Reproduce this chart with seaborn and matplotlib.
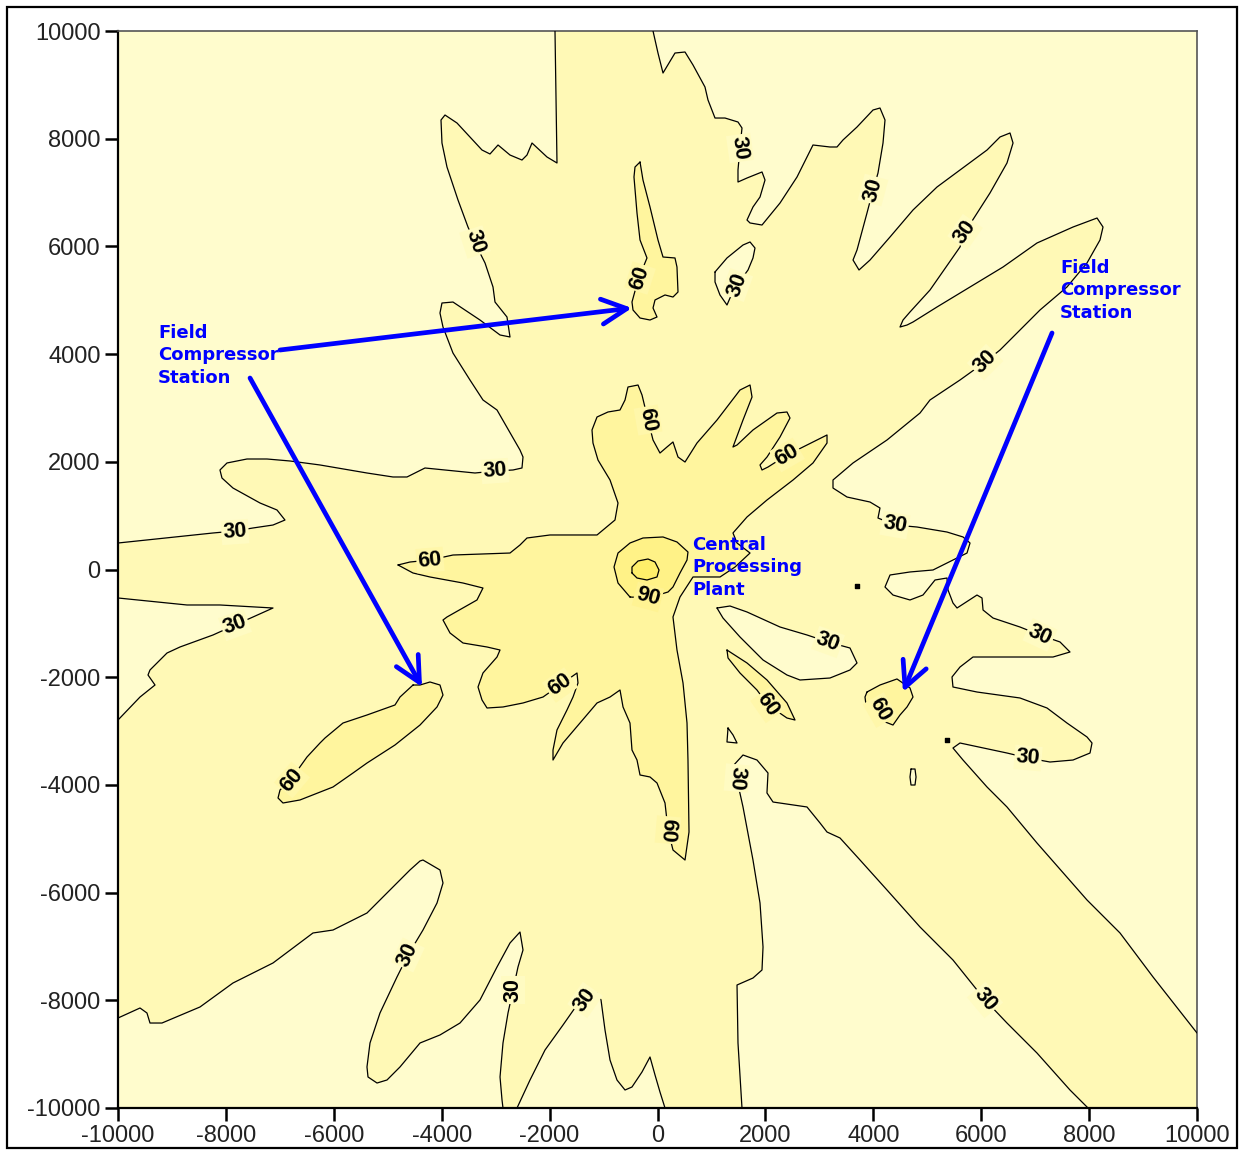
import matplotlib
matplotlib.use("Agg")
import matplotlib.pyplot as plt
import seaborn as sns
from matplotlib.patches import Rectangle
from matplotlib.colors import to_rgb

# ---------------------------------------------------------------
# Ground-level concentration isopleths around the gas plant (m grid)
# ---------------------------------------------------------------

# 30-level boundaries of the low (<30) zones that reach the grid edge
light_nw = [(-1900, 10000), (-1863, 7549), (-2048, 7660), (-2326, 7920), (-2419, 7697),
            (-2512, 7604), (-2734, 7697), (-2956, 7883), (-3105, 7716), (-3253, 7790),
            (-3716, 8291), (-3939, 8440), (-4013, 8347), (-3995, 7920), (-3902, 7474),
            (-3698, 6862), (-3513, 6360), (-3364, 6026), (-3197, 5692), (-3049, 5246),
            (-3012, 4967), (-2790, 4689), (-2734, 4318), (-2919, 4355), (-3290, 4633),
            (-3791, 4967), (-3995, 4949), (-4032, 4763), (-3976, 4503), (-3791, 4020),
            (-3476, 3519), (-3235, 3148), (-2975, 2962), (-2549, 2219), (-2493, 2089),
            (-2512, 1885), (-2678, 1848), (-3012, 1829), (-3383, 1792), (-4310, 1885),
            (-4643, 1718), (-4903, 1718), (-5385, 1792), (-6256, 1941), (-6812, 2015),
            (-7238, 2052), (-7609, 2052), (-7980, 1978), (-8110, 1848), (-8073, 1699),
            (-7869, 1513), (-7368, 1235), (-7053, 1105), (-6905, 919), (-7127, 826),
            (-7498, 771), (-7831, 715), (-8239, 678), (-10000, 492)]

light_ne = [(-83, 10000), (9, 9591), (102, 9220), (324, 9591), (510, 9610), (658, 9369),
            (880, 8960), (936, 8719), (1066, 8384), (1251, 8384), (1492, 8310), (1566, 8199),
            (1529, 7827), (1492, 7419), (1492, 7196), (1659, 7270), (1937, 7382), (1993, 7233),
            (1900, 6917), (1770, 6732), (1659, 6490), (1715, 6435), (1937, 6397), (2271, 6806),
            (2586, 7289), (2882, 7883), (3197, 7846), (3327, 7846), (3438, 7976), (3698, 8217),
            (3995, 8533), (4124, 8570), (4217, 8347), (4180, 7920), (4087, 7363), (3995, 7047),
            (3883, 6620), (3698, 5933), (3624, 5747), (3735, 5562), (3939, 5747), (4310, 6175),
            (4736, 6676), (5181, 7103), (5607, 7419), (6108, 7790), (6349, 8032), (6534, 8106),
            (6590, 7920), (6478, 7549), (6163, 6992), (5700, 6267), (5607, 5989), (5051, 5190),
            (4680, 4782), (4551, 4633), (4495, 4503), (4625, 4540), (4736, 4596), (5181, 4875),
            (5793, 5246), (6404, 5617), (7034, 6063), (7702, 6360), (8147, 6527), (8258, 6360),
            (8202, 6119), (7961, 5692), (7590, 5246), (7090, 4819), (6349, 4076), (6071, 3853),
            (5607, 3519), (5051, 3148), (4866, 2906), (4254, 2405), (3624, 1978), (3253, 1662),
            (3253, 1513), (3513, 1346), (3939, 1253), (4124, 1142), (4087, 956), (4402, 826),
            (4810, 789), (5366, 696), (5663, 604), (5793, 492), (5737, 306), (5477, 176),
            (5107, -9), (4680, -46), (4310, -102), (4217, -325), (4365, -474), (4680, -566),
            (4921, -474), (5144, -195), (5366, -158), (5385, -381), (5477, -622), (5552, -715),
            (5922, -474), (6015, -529), (6034, -752), (6219, -901), (6719, -1068), (7090, -1216),
            (7461, -1346), (7646, -1532), (7331, -1625), (6719, -1625), (5848, -1625),
            (5607, -1811), (5459, -1996), (5477, -2182), (5922, -2275), (6719, -2386),
            (7220, -2572), (7590, -2851), (7961, -3110), (8054, -3222), (8017, -3408),
            (7702, -3538), (7275, -3575), (6868, -3501), (6478, -3408), (5607, -3222),
            (5477, -3315), (5663, -3538), (6108, -4039), (6478, -4410), (7034, -5079),
            (7961, -6137), (8573, -6750), (9185, -7567), (10000, -8607)]

light_se = [(1566, -10000), (1492, -8793), (1474, -7716), (1770, -7586), (1937, -7437),
            (1956, -7010), (1900, -6193), (1770, -5395), (1585, -4410), (1474, -3909),
            (1381, -3668), (1585, -3445), (1844, -3538), (2048, -3779), (2029, -4150),
            (2141, -4318), (2771, -4410), (3012, -4707), (3142, -4875), (3383, -4986),
            (3754, -5395), (4254, -5952), (4866, -6639), (5477, -7252), (6071, -7994),
            (6478, -8422), (7034, -8979), (7646, -9666), (7980, -10000)]

light_sw = [(-10000, -8329), (-9592, -8143), (-9463, -8236), (-9407, -8422), (-9185, -8422),
            (-8480, -8124), (-7869, -7679), (-7127, -7307), (-6386, -6750), (-6015, -6695),
            (-5385, -6379), (-5014, -6007), (-4588, -5580), (-4402, -5413), (-4347, -5395),
            (-4032, -5580), (-3976, -5822), (-4087, -6193), (-4347, -6695), (-4625, -7159),
            (-4829, -7567), (-5144, -8236), (-5329, -8793), (-5385, -9238), (-5366, -9424),
            (-5199, -9536), (-5014, -9480), (-4773, -9238), (-4402, -8793), (-4032, -8644),
            (-3661, -8422), (-3290, -7994), (-2975, -7382), (-2734, -6936), (-2549, -6732),
            (-2493, -7066), (-2586, -7382), (-2678, -7809), (-2771, -8236), (-2864, -8793),
            (-2919, -9424), (-2882, -9851), (-2864, -10000)]

light_s = [(-2604, -10000), (-2363, -9480), (-2085, -8923), (-1752, -8459), (-1492, -8087),
           (-1121, -7865), (-1047, -7994), (-973, -8552), (-880, -9110), (-751, -9480),
           (-602, -9666), (-473, -9610), (-287, -9331), (-139, -9053), (-46, -9387),
           (46, -9703), (139, -10000)]

light_w = [(-10000, -529), (-8721, -659), (-8110, -659), (-7127, -715), (-7498, -882),
           (-7831, -1031), (-8239, -1216), (-8851, -1439), (-9092, -1551), (-9407, -1866),
           (-9444, -1959), (-9314, -2145), (-9592, -2368), (-10000, -2795)]

# closed low (<30) pockets inside the 30-60 band
island_n = [(1066, 5525), (1288, 5785), (1585, 6026), (1715, 6082), (1807, 5970), (1770, 5785),
            (1678, 5562), (1474, 5283), (1344, 5042), (1288, 4912), (1158, 5098), (1066, 5339)]
island_e = [(1103, -715), (1344, -678), (1659, -789), (2271, -1068), (2771, -1216),
            (3160, -1346), (3568, -1458), (3698, -1736), (3568, -1866), (3197, -2015),
            (2641, -2052), (2400, -1959), (1956, -1680), (1529, -1253), (1214, -901)]
island_tri = [(1307, -2943), (1288, -3203), (1474, -3222), (1400, -3073)]
island_oval = [(4699, -3705), (4773, -3705), (4792, -3853), (4773, -4002), (4699, -4002),
               (4680, -3853)]
spot_x = [3698, 5366]
spot_y = [-306, -3166]

# 60-level closed isopleths
c60_center = [(-4810, 84), (-4588, 139), (-4217, 176), (-3791, 269), (-2734, 306), (-2549, 455),
              (-2419, 585), (-1993, 641), (-1121, 641), (-788, 919), (-732, 1235), (-880, 1662),
              (-1103, 2033), (-1196, 2349), (-1214, 2591), (-1121, 2832), (-918, 2925),
              (-695, 2962), (-602, 3148), (-547, 3389), (-361, 3426), (-287, 3240), (-176, 2776),
              (-83, 2405), (46, 2163), (176, 2275), (287, 2368), (380, 2089), (510, 1996),
              (732, 2349), (1103, 2776), (1529, 3333), (1715, 3426), (1752, 3203), (1585, 2776),
              (1399, 2275), (1474, 2312), (1770, 2591), (2215, 2906), (2400, 2925), (2456, 2813),
              (2271, 2461), (2030, 2089), (1900, 1941), (1937, 1848), (2048, 1903), (2400, 2126),
              (2771, 2312), (3142, 2498), (3142, 2349), (2882, 1978), (2512, 1662), (2030, 1291),
              (1659, 975), (1399, 678), (1474, 492), (1715, 306), (1437, 46), (1159, -139),
              (658, -139), (417, -511), (287, -882), (361, -1495), (473, -2108), (547, -2851),
              (565, -3538), (584, -4875), (510, -5395), (287, -5209), (195, -4837), (139, -4336),
              (-9, -3965), (-139, -3853), (-324, -3816), (-380, -3538), (-473, -3352),
              (-510, -2851), (-639, -2553), (-695, -2238), (-880, -2368), (-1121, -2479),
              (-1437, -2851), (-1752, -3222), (-1937, -3538), (-1937, -3352), (-1863, -2980),
              (-1678, -2609), (-1566, -2368), (-1474, -2108), (-1492, -1922), (-1807, -2145),
              (-2122, -2368), (-2493, -2479), (-2864, -2553), (-3160, -2572), (-3253, -2423),
              (-3327, -2182), (-3235, -1922), (-2975, -1625), (-2919, -1495), (-3160, -1439),
              (-3605, -1365), (-3846, -1179), (-3976, -938), (-3902, -882), (-3346, -566),
              (-3235, -344), (-3605, -251), (-4217, -139), (-4532, -65)]

c60_north = [(-324, 7567), (-269, 7233), (-139, 6732), (9, 6119), (102, 5803), (324, 5785),
             (361, 5617), (380, 5153), (287, 5060), (139, 5098), (-46, 5005), (-83, 4856),
             (-9, 4689), (-139, 4633), (-324, 4670), (-454, 4819), (-473, 4967), (-361, 5376),
             (-195, 5785), (-324, 6119), (-380, 6620), (-436, 7289), (-417, 7474)]

c60_sw = [(-4532, -2145), (-4773, -2368), (-4866, -2516), (-5385, -2702), (-5830, -2851),
          (-6163, -3129), (-6256, -3222), (-6497, -3482), (-6775, -3872), (-6997, -4095),
          (-7034, -4243), (-6942, -4336), (-6627, -4280), (-6015, -4039), (-5644, -3779),
          (-5385, -3594), (-4866, -3259), (-4402, -2888), (-4087, -2553), (-3976, -2331),
          (-4032, -2145), (-4217, -2089), (-4402, -2145)]

c60_ese = [(1288, -1495), (1344, -1532), (1659, -1736), (2030, -2052), (2400, -2479),
           (2549, -2795), (2400, -2758), (2048, -2516), (1844, -2238), (1529, -1922),
           (1307, -1643)]

c60_se = [(3883, -2275), (4124, -2145), (4439, -2033), (4680, -2200), (4736, -2368),
          (4625, -2553), (4495, -2702), (4365, -2888), (4032, -2758), (3865, -2516),
          (3846, -2368)]

# 90-level ring and the unlabelled peak isopleth inside it
c90_ring = [(-510, -511), (-732, -251), (-806, 46), (-732, 306), (-510, 492), (-269, 585),
            (102, 604), (361, 511), (565, 325), (547, 176), (417, -65), (287, -325),
            (195, -418), (-176, -529)]
c120_core = [(-473, -65), (-473, 46), (-361, 158), (-176, 195), (-46, 139), (28, -9),
             (-9, -139), (-195, -195), (-380, -158)]

# isopleth labels: x, y, text, angle
contour_labels = [
    (-3383, 6082, "30", -72), (1529, 7827, "30", -82), (3995, 7047, "30", 75),
    (5700, 6267, "30", 55), (6071, 3853, "30", 45), (1474, 5283, "30", 70),
    (-324, 5413, "60", 72), (-3012, 1829, "30", 4), (-7831, 696, "30", 4),
    (-7831, -1031, "30", 20), (-4217, 176, "60", 5), (-176, 2776, "60", -80),
    (2400, 2126, "60", 30), (-176, -511, "90", -15), (4402, 826, "30", -10),
    (3160, -1346, "30", -20), (7090, -1216, "30", -25), (6868, -3501, "30", -5),
    (2048, -2516, "60", -55), (4124, -2609, "60", -60), (-1807, -2145, "60", 35),
    (-6775, -3909, "60", 50), (1474, -3872, "30", -95), (195, -4837, "60", -95),
    (6071, -7994, "30", -50), (-4625, -7159, "30", 65), (-2678, -7809, "30", 90),
    (-1344, -7994, "30", 55),
]

# annotations: text, anchor x, anchor y
notes = [
    ("Field\nCompressor\nStation", -9259, 4560),
    ("Field\nCompressor\nStation", 7461, 5767),
    ("Central\nProcessing\nPlant", 640, 624),
]
# pointers: tail x, tail y, head x, head y
pointers = [
    (-6997, 4076, -473, 4856),
    (-7553, 3556, -4365, -2182),
    (7313, 4392, 4551, -2275),
]

tick_values = list(range(-10000, 10001, 2000))

# ---------------------------------------------------------------
C_LOW = "#FFFCCD"
C_30 = "#FFF9B6"
C_60 = "#FFF59E"
C_90 = "#FFF287"
C_PEAK = "#FFEF6A"
BLUE = "#0000FF"


def blend(a, b):
    ra, rb = to_rgb(a), to_rgb(b)
    return tuple((x + y) / 2 for x, y in zip(ra, rb))


sns.set_theme(style="white")
plt.rcParams["font.family"] = ["Liberation Sans", "DejaVu Sans"]
plt.rcParams["axes.unicode_minus"] = False

W, H = 1240, 1151
fig = plt.figure(figsize=(W / 100, H / 100), dpi=100)
ax = fig.add_axes([118 / W, 1 - 1108 / H, (1197 - 118) / W, (1108 - 31) / H])
ax.set_facecolor(C_30)


def draw_line(pts, closed):
    xs = [p[0] for p in pts]
    ys = [p[1] for p in pts]
    if closed:
        xs.append(xs[0])
        ys.append(ys[0])
    sns.lineplot(x=xs, y=ys, sort=False, estimator=None, ax=ax,
                 color="black", linewidth=0.9, zorder=4)


def fill(pts, color, corners=()):
    poly = list(pts) + list(corners)
    ax.fill([p[0] for p in poly], [p[1] for p in poly], color=color, lw=0, zorder=1)


# low zones touching the grid edge
edge_zones = [
    (light_nw, [(-10000, 10000)]),
    (light_ne, [(10000, 10000)]),
    (light_se, []),
    (light_sw, [(-10000, -10000)]),
    (light_s, []),
    (light_w, []),
]
for pts, corners in edge_zones:
    fill(pts, C_LOW, corners)
    draw_line(pts, closed=False)

for pts in (island_n, island_e, island_tri, island_oval):
    fill(pts, C_LOW)
    draw_line(pts, closed=True)

ax.scatter(spot_x, spot_y, s=6, marker="s", color="black", zorder=4)

for pts in (c60_center, c60_north, c60_sw, c60_ese, c60_se):
    fill(pts, C_60)
    draw_line(pts, closed=True)

fill(c90_ring, C_90)
draw_line(c90_ring, closed=True)
fill(c120_core, C_PEAK)
draw_line(c120_core, closed=True)

label_bg = {"30": blend(C_LOW, C_30), "60": blend(C_30, C_60), "90": blend(C_60, C_90)}
for x, y, txt, ang in contour_labels:
    ax.text(x, y, txt, rotation=ang, rotation_mode="anchor", ha="center", va="center",
            fontsize=15.5, fontweight="bold", color="black", zorder=6,
            bbox=dict(boxstyle="square,pad=0.08", fc=label_bg[txt], ec="none"))

for txt, x, y in notes:
    ax.text(x, y, txt, color=BLUE, fontsize=13, fontweight="bold", ha="left", va="top",
            family=["DejaVu Sans"], linespacing=1.32, zorder=8)

for x0, y0, x1, y1 in pointers:
    ax.annotate("", xy=(x1, y1), xytext=(x0, y0), zorder=8,
                arrowprops=dict(arrowstyle="->,head_length=0.9,head_width=0.45",
                                mutation_scale=20, color=BLUE, lw=3.4,
                                shrinkA=0, shrinkB=0))

ax.set_xlim(-10000, 10000)
ax.set_ylim(-10000, 10000)
ax.set_xticks(tick_values)
ax.set_yticks(tick_values)
ax.set_xticklabels([str(v) for v in tick_values])
ax.set_yticklabels([str(v) for v in tick_values])
ax.set_xlabel("")
ax.set_ylabel("")
ax.tick_params(direction="out", length=9.5, width=1.8, color="black",
               bottom=True, left=True, labelsize=17, pad=3, labelcolor="#222222")
for side in ("left", "bottom"):
    ax.spines[side].set_color("black")
    ax.spines[side].set_linewidth(1.6)
for side in ("top", "right"):
    ax.spines[side].set_color("#555555")
    ax.spines[side].set_linewidth(1.2)

fig.patches.append(Rectangle((7 / W, 3 / H), 1230 / W, 1141 / H, transform=fig.transFigure,
                             fill=False, ec="black", lw=1.6))

fig.savefig("out.png", dpi=100, facecolor="white")
